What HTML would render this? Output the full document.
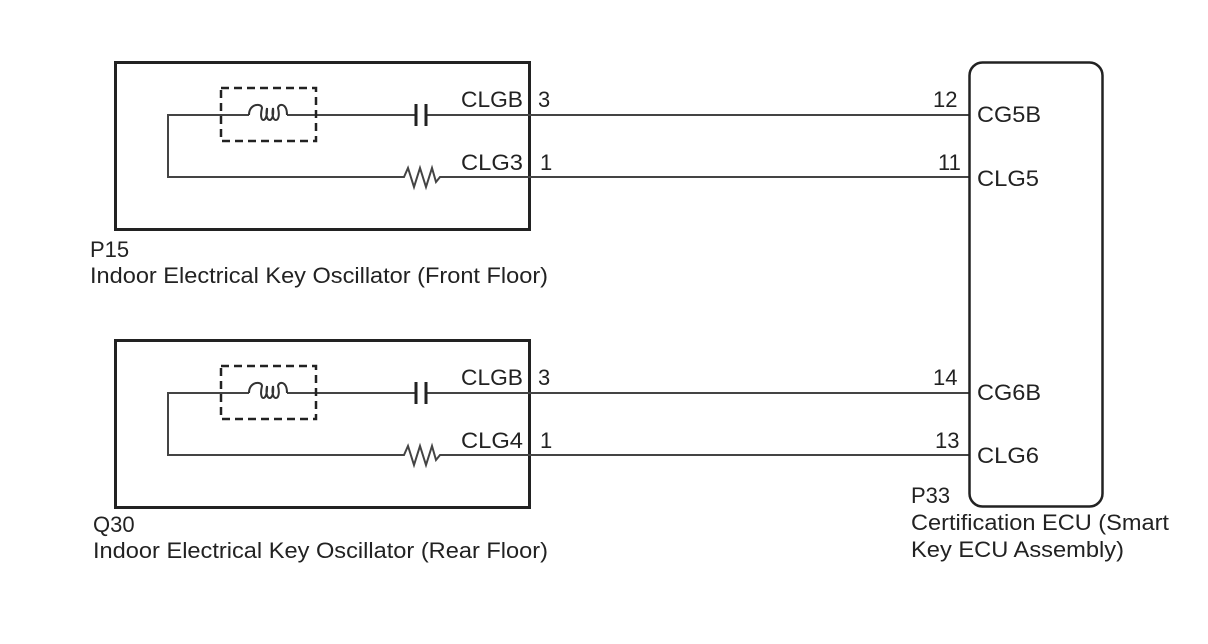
<!DOCTYPE html>
<html><head><style>body{margin:0;background:#fff}svg{display:block}</style></head><body>
<svg width="1208" height="644" xmlns="http://www.w3.org/2000/svg" font-family="Liberation Sans, Arial, sans-serif" font-size="22" fill="#222">
<g id="g1">
<rect x="115.5" y="62.5" width="414" height="167" fill="none" stroke="#222" stroke-width="3"/>
<path d="M249 115 H168 V177 H404 L408 168 L414 187 L420 168 L426 187 L432 168 L436 182 L440 177 H969" fill="none" stroke="#444" stroke-width="2"/>
<path d="M287 115 H416 M426 115 H969" fill="none" stroke="#444" stroke-width="2"/>
<path d="M416 104 V126 M426 104 V126" stroke="#222" stroke-width="3"/>
<rect x="221" y="88" width="95" height="53" fill="none" stroke="#222" stroke-width="2.5" stroke-dasharray="8,5"/>
<path d="M249 115 C249 103 262 103 262 108 C258 124 268 124 267 108 C264 124 275 124 273 108 C270 124 282 124 278 108 C279 103 287 103 287 115" fill="none" stroke="#333" stroke-width="2"/>
<text x="461" y="107" textLength="62" lengthAdjust="spacingAndGlyphs">CLGB</text><text x="538" y="107">3</text>
<text x="461" y="170" textLength="62" lengthAdjust="spacingAndGlyphs">CLG3</text><text x="540" y="170">1</text>
</g>
<g transform="translate(0,278)">
<rect x="115.5" y="62.5" width="414" height="167" fill="none" stroke="#222" stroke-width="3"/>
<path d="M249 115 H168 V177 H404 L408 168 L414 187 L420 168 L426 187 L432 168 L436 182 L440 177 H969" fill="none" stroke="#444" stroke-width="2"/>
<path d="M287 115 H416 M426 115 H969" fill="none" stroke="#444" stroke-width="2"/>
<path d="M416 104 V126 M426 104 V126" stroke="#222" stroke-width="3"/>
<rect x="221" y="88" width="95" height="53" fill="none" stroke="#222" stroke-width="2.5" stroke-dasharray="8,5"/>
<path d="M249 115 C249 103 262 103 262 108 C258 124 268 124 267 108 C264 124 275 124 273 108 C270 124 282 124 278 108 C279 103 287 103 287 115" fill="none" stroke="#333" stroke-width="2"/>
<text x="461" y="107" textLength="62" lengthAdjust="spacingAndGlyphs">CLGB</text><text x="538" y="107">3</text>
<text x="461" y="170" textLength="62" lengthAdjust="spacingAndGlyphs">CLG4</text><text x="540" y="170">1</text>
</g>
<rect x="969.5" y="62.5" width="133" height="444" rx="13" fill="none" stroke="#222" stroke-width="2.5"/>
<text x="933" y="107">12</text><text x="977" y="122" textLength="64" lengthAdjust="spacingAndGlyphs">CG5B</text>
<text x="938" y="170">11</text><text x="977" y="186" textLength="62" lengthAdjust="spacingAndGlyphs">CLG5</text>
<text x="933" y="385">14</text><text x="977" y="400" textLength="64" lengthAdjust="spacingAndGlyphs">CG6B</text>
<text x="935" y="448">13</text><text x="977" y="463" textLength="62" lengthAdjust="spacingAndGlyphs">CLG6</text>
<text x="90" y="257">P15</text>
<text x="90" y="283" textLength="458" lengthAdjust="spacingAndGlyphs">Indoor Electrical Key Oscillator (Front Floor)</text>
<text x="93" y="532">Q30</text>
<text x="93" y="558" textLength="455" lengthAdjust="spacingAndGlyphs">Indoor Electrical Key Oscillator (Rear Floor)</text>
<text x="911" y="503">P33</text>
<text x="911" y="530" textLength="258" lengthAdjust="spacingAndGlyphs">Certification ECU (Smart</text>
<text x="911" y="557" textLength="213" lengthAdjust="spacingAndGlyphs">Key ECU Assembly)</text>
</svg>
</body></html>
